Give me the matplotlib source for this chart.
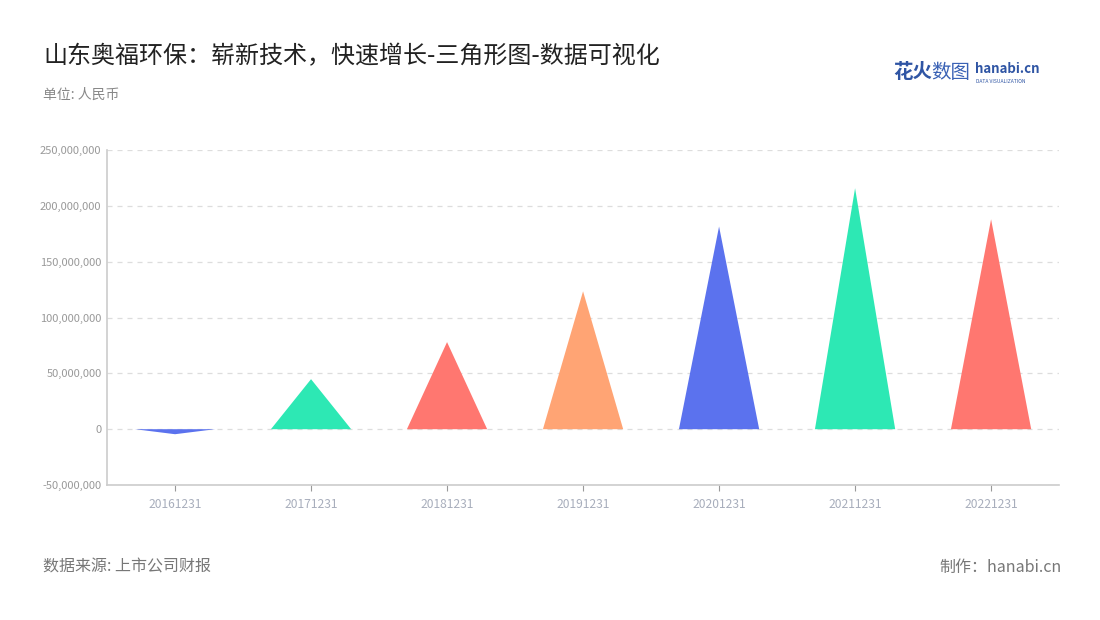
import matplotlib
matplotlib.use('Agg')
import matplotlib.pyplot as plt
from matplotlib.ticker import FuncFormatter
import numpy as np

plt.rcParams['font.family'] = ['Noto Sans CJK SC', 'DejaVu Sans']

# Дані
categories = ['20161231', '20171231', '20181231', '20191231', '20201231', '20211231', '20221231']
values = [-4500000, 44800000, 78000000, 123500000, 181500000, 215800000, 188000000]
colors = ['#5B72EE', '#2DE8B4', '#FF7770', '#FFA474', '#5B72EE', '#2DE8B4', '#FF7770']

fig = plt.figure(figsize=(11, 6.2), dpi=100)
ax = fig.add_axes([0.0973, 0.2177, 0.8655, 0.5403])

half = 0.295
for i, (v, c) in enumerate(zip(values, colors)):
    ax.fill([i - half, i, i + half], [0, v, 0], color=c, linewidth=0, zorder=3)

ax.set_xlim(-0.5, len(categories) - 0.5)
ax.set_ylim(-50000000, 250000000)
ax.set_yticks(np.arange(-50000000, 250000001, 50000000))
ax.yaxis.set_major_formatter(FuncFormatter(lambda v, p: f'{int(v):,}'))
ax.set_xticks(range(len(categories)))
ax.set_xticklabels(categories)

ax.grid(axis='y', color='#dddddd', linestyle=(0, (4, 4)), linewidth=0.9, zorder=0)
for s in ['top', 'right']:
    ax.spines[s].set_visible(False)
for s in ['left', 'bottom']:
    ax.spines[s].set_color('#cccccc')
    ax.spines[s].set_linewidth(1.2)
ax.tick_params(axis='y', length=0, labelsize=8, labelcolor='#999999', pad=4)
ax.tick_params(axis='x', length=4, color='#999999', labelsize=8.7, labelcolor='#a8aebc', pad=5)

# Заголовки та підписи
fig.text(0.039, 0.91, '山东奥福环保：崭新技术，快速增长-三角形图-数据可视化',
         fontsize=17.3, color='#222222', va='center', ha='left')
fig.text(0.039, 0.847, '单位: 人民币', fontsize=10, color='#888888', va='center', ha='left')
fig.text(0.039, 0.085, '数据来源: 上市公司财报', fontsize=11.5, color='#777777', va='center', ha='left')
fig.text(0.965, 0.085, '制作：hanabi.cn', fontsize=11.5, color='#777777', va='center', ha='right')

# Логотип
fig.text(0.812, 0.883, '花火', fontsize=14, color='#2f55a4', fontweight='bold', va='center', ha='left')
fig.text(0.847, 0.883, '数图', fontsize=14, color='#3a62b5', va='center', ha='left')
fig.text(0.886, 0.888, 'hanabi.cn', fontsize=9.5, color='#2f55a4', fontweight='bold', va='center', ha='left')
fig.text(0.887, 0.869, 'DATA VISUALIZATION', fontsize=3.6, color='#2f55a4', va='center', ha='left')

plt.savefig('out.png', dpi=100)
